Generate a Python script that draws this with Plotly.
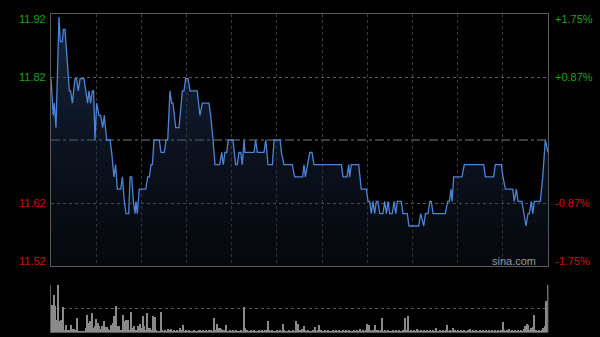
import plotly.graph_objects as go

# ---- data ----
prev_close = 11.72
minutes = [0, 1.5, 2.2, 3.3, 5.3, 6.2, 7.5, 8.2, 9.3, 12.2, 13, 14.2, 15.9, 17, 18.1, 19.3, 21.9,
           23.2, 24.3, 25.2, 26.3, 27.4, 28.3, 29.2, 30.3, 31.9, 33, 34.3, 35.4, 37, 39.2, 40.3,
           41.8, 42.9, 44, 46.3, 47.4, 48.7, 49.8, 51.6, 52.5, 53.6, 54.7, 55.8, 56.4, 57.3, 58.6,
           62.9, 64.2, 65.3, 66.4, 67.3, 68.4, 71.9, 73, 75.2, 76.4, 77.5, 79, 80.1, 81, 82.8, 85,
           87.2, 88.3, 89.4, 91, 92.3, 97.1, 98.9, 100.5, 104.9, 106, 107.6, 108.9, 112, 113.3,
           114.4, 115.5, 116.7, 117.7, 120.8, 122.6, 123.7, 124.8, 126, 127, 128.2, 128.8, 134.8,
           135.9, 137, 141.4, 142.6, 144.1, 147, 148.1, 152.1, 153, 154.7, 160.2, 161.8, 167.1,
           168, 168.9, 171.8, 173.3, 174.6, 192.8, 193.9, 196.5, 197.7, 198.3, 199.4, 204.3, 206,
           209.4, 210.5, 211.6, 212.7, 213.8, 214.9, 216, 217.1, 218.3, 220.4, 221.6, 222.7, 223.8,
           224.9, 226.6, 227.8, 228.9, 230, 232.6, 233.7, 236.6, 237.7, 244.1, 245.5, 247.5, 248.6,
           250.3, 251.5, 252.5, 253.7, 261.8, 263.4, 264.5, 265.6, 266.3, 267.4, 272.9, 274.4,
           287.3, 288.4, 293.9, 295, 299, 300.1, 301.7, 306.6, 307.6, 309, 310.1, 312.7, 313.9,
           315.4, 316.7, 317.6, 318.9, 319.9, 320.9, 324.9, 326.5, 328.2, 330]
prices = [11.82, 11.76, 11.78, 11.74, 11.92, 11.88, 11.88, 11.90, 11.90, 11.80, 11.80, 11.78, 11.82,
          11.82, 11.80, 11.82, 11.82, 11.80, 11.78, 11.80, 11.78, 11.80, 11.80, 11.72, 11.78, 11.76,
          11.76, 11.74, 11.76, 11.72, 11.72, 11.70, 11.66, 11.68, 11.64, 11.64, 11.66, 11.62, 11.60,
          11.60, 11.66, 11.66, 11.62, 11.60, 11.62, 11.60, 11.64, 11.64, 11.66, 11.66, 11.68, 11.68,
          11.72, 11.72, 11.70, 11.70, 11.72, 11.72, 11.80, 11.78, 11.78, 11.74, 11.74, 11.80, 11.80,
          11.82, 11.82, 11.80, 11.80, 11.76, 11.78, 11.78, 11.76, 11.72, 11.68, 11.68, 11.70, 11.68,
          11.70, 11.70, 11.72, 11.72, 11.68, 11.68, 11.70, 11.70, 11.68, 11.72, 11.70, 11.70, 11.72,
          11.70, 11.70, 11.72, 11.68, 11.68, 11.72, 11.72, 11.70, 11.68, 11.68, 11.66, 11.66, 11.68,
          11.66, 11.70, 11.70, 11.68, 11.68, 11.66, 11.66, 11.68, 11.66, 11.68, 11.68, 11.64, 11.64,
          11.62, 11.62, 11.60, 11.62, 11.60, 11.62, 11.62, 11.60, 11.60, 11.62, 11.60, 11.62, 11.60,
          11.60, 11.62, 11.60, 11.62, 11.62, 11.60, 11.60, 11.58, 11.58, 11.60, 11.58, 11.60, 11.60,
          11.62, 11.62, 11.60, 11.60, 11.62, 11.62, 11.64, 11.62, 11.66, 11.66, 11.68, 11.68, 11.66,
          11.66, 11.68, 11.68, 11.66, 11.64, 11.64, 11.62, 11.64, 11.62, 11.62, 11.60, 11.58, 11.60,
          11.60, 11.62, 11.60, 11.62, 11.62, 11.66, 11.72, 11.70]

volumes = [51, 58, 79, 56, 26, 100, 23, 25, 53, 5,
           15, 5, 4, 15, 6, 6, 3, 30, 2, 1,
           2, 2, 1, 8, 37, 19, 23, 40, 8, 13,
           27, 19, 12, 6, 12, 23, 11, 11, 6, 4,
           15, 19, 33, 55, 12, 13, 4, 5, 37, 23,
           26, 26, 3, 42, 8, 12, 3, 3, 13, 18,
           8, 33, 12, 5, 40, 8, 8, 4, 35, 32,
           3, 2, 1, 42, 3, 2, 3, 2, 6, 3,
           6, 2, 3, 2, 3, 2, 8, 4, 15, 2,
           3, 2, 3, 2, 2, 3, 2, 2, 3, 4,
           2, 3, 2, 3, 2, 4, 3, 2, 30, 5,
           18, 8, 8, 6, 3, 4, 15, 2, 2, 3,
           2, 3, 2, 3, 2, 2, 3, 2, 54, 8,
           3, 2, 2, 3, 2, 3, 2, 2, 3, 2,
           3, 2, 3, 4, 23, 3, 2, 3, 2, 2,
           3, 2, 3, 2, 18, 3, 2, 2, 3, 2,
           2, 3, 2, 23, 18, 3, 3, 6, 12, 3,
           2, 3, 2, 2, 3, 11, 2, 3, 14, 3,
           2, 2, 3, 2, 3, 2, 2, 3, 2, 3,
           2, 3, 2, 2, 3, 2, 3, 2, 3, 2,
           2, 3, 2, 3, 2, 6, 2, 3, 2, 3,
           18, 15, 3, 2, 3, 15, 5, 3, 2, 3,
           30, 2, 3, 2, 3, 2, 2, 3, 2, 3,
           2, 3, 2, 2, 3, 30, 3, 35, 2, 3,
           2, 3, 2, 6, 3, 2, 3, 2, 3, 2,
           3, 2, 3, 2, 3, 2, 8, 2, 3, 2,
           3, 2, 3, 15, 2, 3, 2, 8, 3, 2,
           3, 2, 3, 2, 3, 2, 2, 3, 6, 2,
           3, 2, 3, 2, 2, 3, 2, 3, 2, 3,
           2, 3, 2, 3, 2, 3, 2, 3, 2, 3,
           22, 3, 2, 3, 6, 2, 3, 2, 3, 2,
           3, 2, 3, 2, 6, 12, 18, 15, 5, 8,
           11, 37, 3, 2, 3, 2, 3, 8, 12, 65,
           100]
vol_minutes = list(range(len(volumes)))

grid_minutes = [30, 60, 90, 120, 150, 180, 210, 240, 270, 300]
left_labels = ["11.92", "11.82", "11.62", "11.52"]
right_labels = ["+1.75%", "+0.87%", "-0.87%", "-1.75%"]

# ---- figure ----
ymin = prev_close * (1 - 0.0175)
ymax = prev_close * (1 + 0.0175)

fig = go.Figure()
fig.add_trace(go.Scatter(x=[minutes[0], minutes[-1]], y=[ymin, ymin], mode="lines",
                         line=dict(width=0), hoverinfo="skip", showlegend=False,
                         xaxis="x", yaxis="y"))
fig.add_trace(go.Scatter(x=minutes, y=prices, mode="lines", fill="tonexty",
                         line=dict(color="#4d84d4", width=1.3),
                         fillgradient=dict(type="vertical", start=ymin, stop=ymax,
                                           colorscale=[[0, "rgba(20,30,50,0.25)"],
                                                       [1, "rgba(45,75,125,0.5)"]]),
                         showlegend=False, xaxis="x", yaxis="y"))
fig.add_trace(go.Bar(x=vol_minutes, y=volumes, width=0.75,
                     marker=dict(color="#8a8a8a", line=dict(width=0)),
                     showlegend=False, xaxis="x2", yaxis="y2"))

xd = [51 / 600, 548 / 600]
fig.update_layout(
    width=600, height=337, autosize=False,
    margin=dict(l=0, r=0, t=0, b=0),
    paper_bgcolor="#000000", plot_bgcolor="#000000",
    bargap=0,
    xaxis=dict(domain=xd, range=[0, 330], tickvals=grid_minutes, showticklabels=False,
               ticks="", showgrid=True, gridcolor="#3a3a3a", griddash="dot", gridwidth=1,
               zeroline=False, showline=True, linecolor="#5a5a5a", mirror=True, linewidth=1),
    yaxis=dict(domain=[1 - 266 / 337, 1 - 14 / 337], range=[ymin, ymax],
               tickvals=[prev_close * (1 + 0.00875), prev_close * (1 - 0.00875)],
               showticklabels=False, ticks="", showgrid=True, gridcolor="#5a5a5a",
               griddash="dot", gridwidth=1, zeroline=False, showline=True,
               linecolor="#5a5a5a", mirror=True, linewidth=1),
    xaxis2=dict(domain=xd, range=[0, 330], tickvals=grid_minutes, showticklabels=False,
                ticks="", showgrid=False, zeroline=False, anchor="y2",
                showline=True, linecolor="#5a5a5a", linewidth=1),
    yaxis2=dict(domain=[1 - 332 / 337, 1 - 285 / 337], range=[0, 100], tickvals=[50, 100],
                showticklabels=False, ticks="", showgrid=True, gridcolor="#5a5a5a",
                griddash="dot", gridwidth=1, zeroline=False, anchor="x2",
                showline=True, linecolor="#5a5a5a", linewidth=1),
)

# prev close line
fig.add_shape(type="line", xref="x", yref="y", x0=0, x1=330, y0=prev_close, y1=prev_close,
              line=dict(color="#7a7a7a", width=1, dash="dashdot"), layer="below")
# right border of volume panel
fig.add_shape(type="line", xref="paper", yref="paper", x0=548 / 600, x1=548 / 600,
              y0=1 - 332 / 337, y1=1 - 285 / 337, line=dict(color="#5a5a5a", width=1))

label_y = [19, 77, 203, 261]
colors = ["#1fa01f", "#1fa01f", "#d01010", "#d01010"]
for lab, rl, py, c in zip(left_labels, right_labels, label_y, colors):
    fig.add_annotation(x=48 / 600, y=1 - py / 337, xref="paper", yref="paper", text=lab,
                       showarrow=False, xanchor="right", yanchor="middle",
                       font=dict(family="Liberation Sans, Arial", size=11, color=c))
    fig.add_annotation(x=553 / 600, y=1 - py / 337, xref="paper", yref="paper", text=rl,
                       showarrow=False, xanchor="left", yanchor="middle",
                       font=dict(family="Liberation Sans, Arial", size=11, color=c))

fig.add_annotation(x=538 / 600, y=1 - 261 / 337, xref="paper", yref="paper", text="sina.com",
                   showarrow=False, xanchor="right", yanchor="middle",
                   font=dict(family="Liberation Sans, Arial", size=11, color="#9a9a9a"))

fig.write_html("out.html")
